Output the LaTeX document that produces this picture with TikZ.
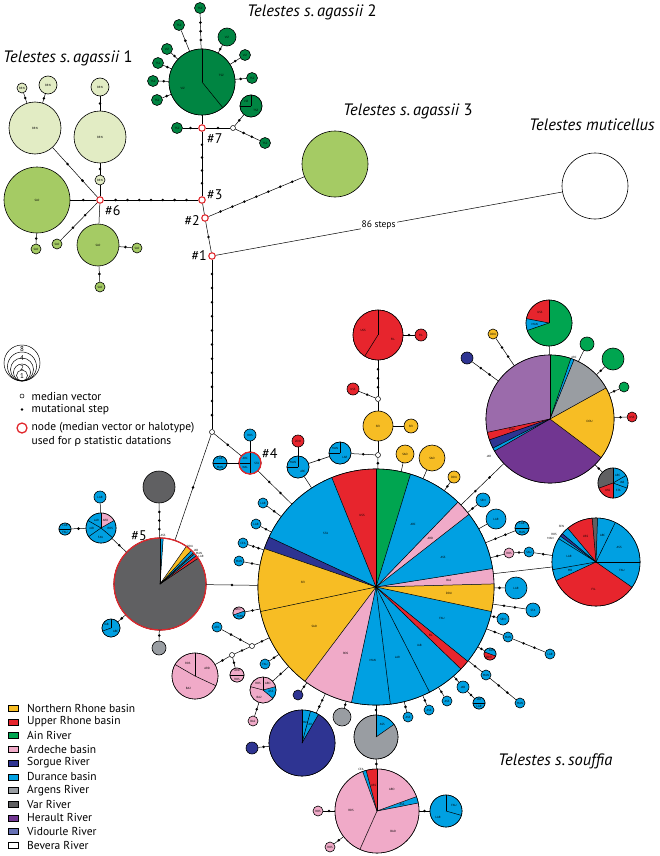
\documentclass[tikz,border=0pt]{standalone}
\usepackage{fontspec}
\setmainfont{PT Sans}
\newfontfamily\grk{Lato}
\usetikzlibrary{calc}
\definecolor{nrY}{RGB}{247,189,36}
\definecolor{urR}{RGB}{231,37,45}
\definecolor{ainG}{RGB}{0,165,80}
\definecolor{ardP}{RGB}{240,170,200}
\definecolor{sorB}{RGB}{46,52,146}
\definecolor{durB}{RGB}{0,160,226}
\definecolor{argG}{RGB}{153,157,162}
\definecolor{varG}{RGB}{96,96,98}
\definecolor{herP}{RGB}{113,54,145}
\definecolor{vidL}{RGB}{155,107,171}
\definecolor{vidLeg}{RGB}{102,112,180}
\definecolor{agA}{RGB}{226,236,196}
\definecolor{agS}{RGB}{165,203,100}
\definecolor{agD}{RGB}{0,133,66}
\definecolor{redring}{RGB}{225,40,45}
\newcommand\tinyf{\fontsize{3}{3.5}\selectfont}
\tikzset{
 hap/.style={circle, draw=black, line width=0.6pt, inner sep=0pt, font=\tinyf},
 conn/.style={draw, line width=0.5pt},
 mv/.style={circle, draw, fill=white, inner sep=0pt, minimum size=5pt, line width=0.5pt},
 rnode/.style={circle, draw=redring, line width=1.1pt, fill=white, minimum size=6.5pt, inner sep=0pt},
 hashlbl/.style={font=\fontsize{14}{16}\selectfont, inner sep=0pt},
 ttl/.style={font=\fontsize{16.5}{18}\selectfont\itshape, inner sep=0pt, anchor=base west},
 legtxt/.style={font=\fontsize{11.5}{13}\selectfont, anchor=west, inner sep=0pt},
 coltxt/.style={font=\fontsize{11.5}{13}\selectfont, anchor=west, inner sep=0pt},
 tlab/.style={font=\tinyf, inner sep=0pt}
}
\newcommand\hn[6]{\node[hap, fill=#5, minimum size={2*#4pt}] (#1) at (#2,-#3) {#6};}
\newcommand\pie[3]{%
 \foreach \pa/\pb/\pc/\pl in {#3}{\fill[\pc] (#1.center) -- ++(\pa:#2) arc[start angle=\pa,end angle=\pb,radius=#2] -- cycle;
   \node[tlab] at ($(#1.center)+({(\pa+\pb)/2}:{0.62*#2})$) {\pl};}
 \foreach \pa/\pb/\pc/\pl in {#3}{\draw[line width=0.5pt] (#1.center) -- ++(\pa:#2);}
 \draw[line width=0.6pt] (#1.center) circle[radius=#2];}
\newcommand\chain[3]{\draw[conn] (#2) -- (#3) coordinate[pos=0] (cs) coordinate[pos=1] (ce);
 \ifnum#1>0 \foreach \i in {1,...,#1}{\fill ($(cs)!{\i/(#1+1)}!(ce)$) circle[radius=1.4];}\fi}
\begin{document}
\begin{tikzpicture}[x=1pt,y=1pt]
\useasboundingbox (0,0) rectangle (659,-856);
% ---------------- titles
\node[ttl] (t1) at (3,-63) {Telestes s.\,agassii \upshape 1};
\node[ttl] (t2) at (247,-17) {Telestes s.\,agassii \upshape 2};
\node[ttl] (t3) at (343,-116) {Telestes s.\,agassii \upshape 3};
\node[ttl] (t4) at (529,-131) {Telestes muticellus};
\node[ttl] (t5) at (498,-765) {Telestes s.\,souffia};
% ---------------- agassii part
\node[rnode] (n6) at (100,-200) {};
\node[rnode] (n3) at (202,-200) {};
\node[rnode] (n2) at (205,-218) {};
\node[rnode] (n1) at (212,-256) {};
\node[rnode] (n7) at (202,-128) {};
\node[mv] (m7) at (233,-128) {};
\node[mv] (m1) at (212,-432) {};
\hn{brnA}{35}{128}{26}{agA}{BRN}
\hn{brnA1}{22}{88}{5}{agA}{BRN}
\hn{brnA2}{48}{85}{9}{agA}{BRN}
\hn{brnB}{100}{137}{26}{agA}{BRN}
\hn{brnB1}{100}{87}{9}{agA}{BRN}
\hn{brnB2}{100}{180}{5}{agA}{BRN}
\hn{sloA}{37}{200}{33}{agS}{SLO}
\hn{sloA1}{36}{249}{5}{agS}{SLO}
\hn{sloA2}{57}{244}{5}{agS}{SLO}
\hn{sloB}{98}{245}{21}{agS}{SLO}
\hn{sloB1}{137}{248}{5}{agS}{SLO}
\hn{sloB2}{100}{287}{5}{agS}{SLO}
\hn{viz}{202}{82}{33}{agD}{}
\pie{viz}{33}{90/309/agD/VIZ,-51/90/agD/TSZ}
\hn{g1}{200}{8}{5.5}{agD}{TSZ}
\hn{g2}{179}{25}{5.5}{agD}{TSZ}
\hn{g3}{167}{49}{5.5}{agD}{VIZ}
\hn{g4}{158}{63}{5.5}{agD}{TSZ}
\hn{g5}{153}{81}{5.5}{agD}{TSZ}
\hn{g6}{157}{100}{5.5}{agD}{TSZ}
\hn{g7}{227}{37}{9}{agD}{VIZ}
\hn{g8}{245}{55}{5.5}{agD}{VIZ}
\hn{g9}{252}{78}{5.5}{agD}{TSZ}
\hn{g10}{251}{106}{11}{agD}{}
\pie{g10}{11}{90/180/agD/VIZ,180/450/agD/TSZ}
\hn{g11}{177}{128}{5.5}{agD}{TSZ}
\hn{g12}{265}{143}{5.5}{agD}{TSZ}
\hn{rhi}{335}{164}{33}{agS}{}
\hn{mut}{595}{186}{33}{white}{}
\chain{7}{n6}{n3}
\chain{4}{n3}{n7}
\chain{0}{n3}{n2}
\chain{1}{n2}{n1}
\chain{7}{n2}{rhi}
\chain{11}{n1}{m1}
\chain{2}{n6}{brnA}
\chain{0}{n6}{brnB2}
\chain{1}{brnB2}{brnB}
\chain{1}{brnB}{brnB1}
\chain{1}{brnA}{brnA1}
\chain{1}{brnA}{brnA2}
\chain{1}{n6}{sloA}
\chain{2}{n6}{sloA2}
\chain{0}{n6}{sloB}
\chain{1}{sloA}{sloA1}
\chain{1}{sloB}{sloB1}
\chain{1}{sloB}{sloB2}
\chain{0}{n7}{viz}
\chain{1}{n7}{g11}
\chain{1}{n7}{m7}
\chain{1}{m7}{g10}
\chain{2}{m7}{g12}
\chain{3}{viz}{g1}
\foreach \g in {g2,g3,g4,g5,g6,g7,g8,g9}{\chain{1}{viz}{\g}}
\draw[conn] (n1) -- (mut) node[pos=0.47, fill=white, inner sep=1pt, font=\fontsize{9.5}{10}\selectfont] (st) {86 steps};
\node[hashlbl, anchor=east] (h1) at (207,-256) {\#1};
\node[hashlbl, anchor=east] (h2) at (200,-221) {\#2};
\node[hashlbl, anchor=west] (h3) at (207,-195) {\#3};
\node[hashlbl, anchor=west] (h6) at (105,-211) {\#6};
\node[hashlbl, anchor=west] (h7) at (207,-139) {\#7};
% ---------------- size legend
\foreach \r/\k in {18/a,14.5/b,11.5/c,8.5/d,5.5/e}{\node[circle, draw, line width=0.5pt, inner sep=0pt, minimum size={2*\r pt}] (sz\k) at (22,{-381+\r}) {};}
\node[font=\fontsize{7}{8}\selectfont, inner sep=0pt] (s8) at (22,-349) {8};
\node[font=\fontsize{7}{8}\selectfont, inner sep=0pt] (s4) at (22,-358) {4};
\node[font=\fontsize{7}{8}\selectfont, inner sep=0pt] (s2) at (22,-368) {2};
\node[font=\fontsize{7}{8}\selectfont, inner sep=0pt] (s1) at (22,-376.5) {1};
\node[mv, minimum size=4pt] (lmv) at (22,-396) {};
\node[legtxt] (lmvt) at (31.5,-396) {median vector};
\fill (22,-409.5) circle[radius=1.3];
\node[legtxt] (lmst) at (31.5,-409.5) {mutational step};
\node[circle, draw=redring, line width=1.3pt, minimum size=10pt, inner sep=0pt] (lrn) at (22,-428) {};
\node[legtxt] (lrnt) at (31.5,-428) {node (median vector or halotype)};
\node[legtxt] (lrnt2) at (31.5,-441) {used for {\grk ρ} statistic datations};
% ---------------- colour legend
\foreach \lc/\lt [count=\i] in {nrY/Northern Rhone basin,urR/Upper Rhone basin,ainG/Ain River,ardP/Ardeche basin,sorB/Sorgue River,durB/Durance basin,argG/Argens River,varG/Var River,herP/Herault River,vidLeg/Vidourle River,white/Bevera River}{
 \node[draw, line width=0.5pt, fill=\lc, minimum width=10pt, minimum height=6pt, inner sep=0pt] (lgs\i) at (13,{-708.3-13.7*(\i-1)}) {};
 \node[coltxt] (lgt\i) at (27,{-708.3-13.7*(\i-1)}) {\lt};}
% ---------------- lower network nodes
\hn{p5}{160}{584}{46}{varG}{}
\hn{v1}{159}{487}{16}{varG}{}
\hn{v2}{159}{648}{7}{argG}{}
\hn{ja}{111}{628}{9}{durB}{}
\hn{l5}{101}{528}{15}{durB}{}
\hn{l5a}{100}{497}{6}{durB}{LAR}
\hn{l5b}{65}{529}{6}{durB}{}
\hn{p4}{250}{463}{11}{durB}{}
\hn{p4a}{250}{435}{6}{durB}{ROS}
\hn{p4b}{220}{463}{7}{durB}{}
\hn{B}{376}{587}{118}{durB}{}
\hn{bl1}{263}{503}{5}{durB}{LAR}
\hn{bl2}{256}{524}{5}{durB}{LAR}
\hn{bl3}{243}{543}{5}{durB}{CEA}
\hn{bl4}{239}{561}{5}{durB}{MAN}
\node[mv] (mt) at (378,-455) {};
\hn{sei}{378}{426}{15}{nrY}{SEI}
\hn{sei2}{411}{426}{7}{nrY}{SEI}
\node[mv] (mt2) at (378,-399) {};
\hn{fil}{378}{335}{25}{urR}{}
\hn{fil2}{421}{335}{6}{urR}{FIL}
\hn{uss1}{353}{389}{6}{urR}{USS}
\hn{ml}{340}{453}{11}{durB}{}
\hn{am}{298}{467}{11}{durB}{}
\hn{zoo}{298}{441}{6}{urR}{ZOO}
\hn{sao1}{405}{454}{9}{nrY}{SAO}
\hn{sao2}{432}{458}{13}{nrY}{SAO}
\hn{dou1}{454}{477}{6}{nrY}{DOU}
\hn{H}{550}{419}{64}{herP}{}
\hn{T}{549}{323}{23}{ainG}{}
\hn{ag1}{587}{344}{7}{ainG}{}
\hn{ag2}{613}{359}{11}{ainG}{}
\hn{ag3}{624}{387}{5}{ainG}{}
\hn{uss2}{632}{417}{5}{urR}{USS}
\hn{M}{613}{483}{15}{durB}{}
\hn{sb1}{467}{358}{6}{sorB}{}
\hn{dou2}{493}{334}{5}{nrY}{DOU}
\hn{R}{596}{562}{44}{durB}{}
\hn{sen1}{483}{500}{7}{durB}{SEN}
\hn{lar1}{496}{519}{10}{durB}{LAR}
\hn{lm}{522}{528}{7}{durB}{}
\hn{ros1}{509}{553}{5}{ardP}{ROS}
\hn{sau}{529}{552}{5}{durB}{SAU}
\hn{lar2}{516}{588}{11}{durB}{LAR}
\hn{sta}{533}{610}{7}{durB}{STA}
\hn{sen2}{503}{619}{6}{durB}{SEN}
\hn{man1}{508}{637}{5}{durB}{MAN}
\hn{lar3}{550}{654}{5}{durB}{LAR}
\hn{az}{490}{654}{6}{durB}{}
\hn{man2}{486}{675}{5}{durB}{MAN}
\hn{man3}{520}{703}{5}{durB}{MAN}
\hn{jab1}{463}{687}{6}{durB}{JAB}
\hn{jl}{479}{703}{6}{durB}{}
\hn{ass1}{447}{701}{5}{durB}{ASS}
\hn{ass2}{429}{710}{5}{durB}{ASS}
\hn{ass3}{408}{717}{5}{durB}{ASS}
\hn{G}{376}{737}{22}{argG}{}
\hn{gr2}{342}{717}{9}{argG}{}
\hn{P}{377}{811}{42}{ardP}{}
\hn{lf}{446}{811}{16}{durB}{}
\hn{ros2}{318}{811}{5}{ardP}{ROS}
\hn{ros3}{330}{847}{5}{ardP}{ROS}
\hn{S}{302}{743}{33}{sorB}{}
\hn{sb2}{252}{748}{6}{sorB}{}
\hn{sb3}{298}{695}{5}{sorB}{}
\hn{pp1}{263}{690}{13}{ardP}{}
\hn{ba2}{253}{721}{5}{ardP}{BA2}
\hn{fau}{265}{664}{5}{durB}{FAU}
\node[mv] (mvA) at (252,-646) {};
\node[mv] (mvB) at (232,-655) {};
\hn{arc}{217}{627}{5}{durB}{ARC}
\hn{pp2}{195}{676}{23}{ardP}{}
\hn{ar}{237}{675}{7}{ardP}{}
\hn{am2}{239}{613}{6}{ardP}{}
% ---------------- pies
\pie{B}{118}{73/90/ainG/,90/112/urR/USS,112/155/durB/STA,155/161/sorB/,161/192/nrY/SEI,192/233/nrY/SAO,233/258/ardP/ROS,258/277/durB/MAN,277/297/durB/LAR,297/316/durB/JAB,316/321/urR/FIL,321/348/durB/FAU,348/361.5/nrY/DOU,361.5/369/ardP/BA2,369/398/durB/ASS,398/406/ardP/ARD,406/433/durB/ARC}
\pie{p5}{46}{34/38/urR/,38/41/durB/,41/43/varG/,43/47/durB/,47/55/nrY/,55/86/white/,86/90/durB/,90/394/varG/}
\draw[redring, line width=1.3pt] (p5.center) circle[radius=46];
\node[tlab] (p5l1) at (163,-535) {ASS};
\node[tlab] (p5l2) at (190,-546) {DOU};
\node[tlab] (p5l3) at (196,-550) {JAB};
\node[tlab] (p5l4) at (199,-553) {MAN};
\node[tlab] (p5l5) at (201,-556.5) {LAR};
\pie{ja}{9}{90/200/durB/JAB,200/450/durB/ARC}
\pie{l5}{15}{90/150/durB/LAR,150/215/durB/JAB,215/320/durB/FAU,320/390/durB/ROS,30/90/ardP/ARD}
\pie{l5b}{6}{0/180/durB/LAR,180/360/durB/FAU}
\pie{p4}{11}{90/180/durB/ARC,180/270/durB/WAL,270/450/durB/STA}
\draw[redring, line width=1.3pt] (p4.center) circle[radius=11];
\pie{p4b}{7}{0/180/durB/LAR,180/360/durB/MAN}
\pie{fil}{25}{90/238/urR/USS,238/450/urR/FIL}
\pie{ml}{11}{90/180/durB/MAN,180/450/durB/LAR}
\pie{am}{11}{90/180/durB/MAN,180/450/durB/ARC}
\pie{H}{64}{-150/-37/herP/,-37/29/nrY/DOU,29/68/argG/,68/71/durB/,71/90/ainG/,90/192/vidL/,192/199/urR/ZOO,199/207/sorB/,207/210/durB/}
\node[tlab] (hl1) at (574,-357) {ARC};
\node[tlab] (hl2) at (489,-456) {JAR};
\pie{T}{23}{90/169/urR/USS,169/199/durB/MAN,199/450/ainG/}
\pie{M}{15}{90/200/varG/,200/270/urR/USS,270/340/durB/STA,340/390/durB/JAB,30/90/durB/ARC}
\pie{R}{44}{-155/-35/urR/FIL,-35/0/durB/FAU,0/64/durB/ASS,64/88/durB/ARC,88/95/varG/,95/130/urR/USS,130/140/durB/,140/144/sorB/,144/148/durB/,148/190/durB/LAR,190/205/durB/MB}
\node[tlab] (rl1) at (561.5,-526.5) {SEN};
\node[tlab] (rl2) at (554,-534) {ROS};
\node[tlab] (rl3) at (550.5,-538.5) {MAN};
\pie{lm}{7}{0/180/durB/LAR,180/360/durB/MAN}
\pie{az}{6}{-20/160/durB/ASS,160/340/urR/ZOO}
\pie{jl}{6}{0/180/durB/JAB,180/360/durB/LAR}
\pie{G}{22}{35/90/durB/ASS,90/395/argG/}
\pie{P}{42}{90/105/urR/USS,105/110/durB/,110/246/ardP/ROS,246/371/ardP/BAO,371/380/durB/ASS,380/450/ardP/ARD}
\node[tlab] (pl1) at (361,-769) {CEA};
\pie{lf}{16}{-16/90/durB/FAU,90/344/durB/LAR}
\pie{S}{33}{60/75/durB/JAR,75/90/durB/MAN,90/420/sorB/}
\pie{pp1}{13}{90/165/ardP/ROS,165/320/ardP/BA2,320/375/durB/ASS,375/450/ardP/ARD}
\pie{pp2}{23}{90/150/ardP/ROS,150/335/ardP/BA2,335/450/ardP/ARD}
\pie{ar}{7}{0/180/ardP/ARD,180/360/ardP/ROS}
\pie{am2}{6}{20/200/ardP/ARD,200/380/durB/MAN}
% ---------------- lower connectors
\chain{1}{m1}{p5}
\chain{1}{m1}{p4}
\chain{2}{p4}{B}
\chain{0}{p4}{p4a}
\chain{0}{p4}{p4b}
\chain{3}{p5}{v1}
\chain{1}{p5}{l5}
\chain{0}{l5}{l5a}
\chain{1}{l5}{l5b}
\chain{1}{p5}{ja}
\chain{1}{p5}{v2}
\chain{1}{p5}{B}
\chain{1}{B}{bl1}
\chain{1}{B}{bl2}
\chain{2}{B}{bl3}
\chain{1}{B}{bl4}
\chain{1}{B}{mt}
\chain{0}{mt}{sei}
\chain{1}{mt}{ml}
\chain{1}{ml}{am}
\chain{0}{am}{zoo}
\chain{0}{am}{B}
\chain{0}{sei}{sei2}
\chain{0}{sei}{mt2}
\chain{3}{mt2}{fil}
\chain{1}{mt2}{uss1}
\chain{1}{fil}{fil2}
\chain{0}{B}{sao1}
\chain{0}{B}{sao2}
\chain{1}{B}{dou1}
\chain{2}{B}{H}
\chain{0}{H}{T}
\chain{0}{H}{ag1}
\chain{1}{H}{ag2}
\chain{1}{H}{ag3}
\chain{1}{H}{uss2}
\chain{1}{H}{M}
\chain{2}{H}{sb1}
\chain{2}{H}{dou2}
\chain{1}{B}{sen1}
\chain{0}{B}{lar1}
\chain{2}{B}{lm}
\chain{1}{B}{ros1}
\chain{1}{ros1}{sau}
\chain{1}{sau}{R}
\chain{0}{B}{R}
\chain{1}{B}{lar2}
\chain{2}{B}{sta}
\chain{1}{B}{sen2}
\chain{1}{B}{man1}
\chain{2}{man1}{lar3}
\chain{1}{B}{az}
\chain{1}{B}{man2}
\chain{2}{man2}{man3}
\chain{1}{B}{jab1}
\chain{1}{jab1}{jl}
\chain{1}{B}{ass1}
\chain{1}{B}{ass2}
\chain{1}{B}{ass3}
\chain{1}{B}{G}
\chain{1}{B}{gr2}
\chain{1}{G}{P}
\chain{1}{P}{lf}
\chain{1}{P}{ros2}
\chain{1}{P}{ros3}
\chain{2}{B}{S}
\chain{1}{S}{sb2}
\chain{1}{B}{sb3}
\chain{1}{B}{pp1}
\chain{1}{pp1}{ba2}
\chain{1}{B}{fau}
\chain{1}{B}{mvA}
\chain{2}{mvA}{arc}
\chain{1}{mvA}{mvB}
\chain{1}{mvB}{pp2}
\chain{1}{mvB}{ar}
\chain{1}{B}{am2}
\node[hashlbl, anchor=west] (h4) at (262,-454) {\#4};
\node[hashlbl] (h5) at (139,-536) {\#5};
\end{tikzpicture}
\end{document}
